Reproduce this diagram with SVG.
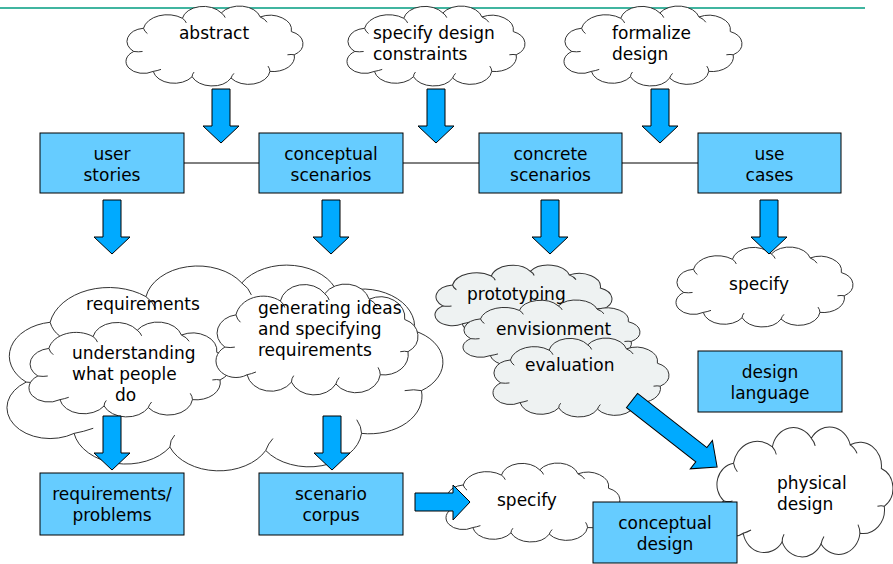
<svg xmlns="http://www.w3.org/2000/svg" xmlns:xlink="http://www.w3.org/1999/xlink" width="893" height="564" viewBox="0 0 893 564">
<style>
.box{fill:#66ccff;stroke:#000;stroke-width:1}
.arrow{fill:#00aaff;stroke:#000;stroke-width:1}
.conn{stroke:#000;stroke-width:1;fill:none}
.cl{stroke:#333;stroke-width:1}
.t{font-family:"DejaVu Sans",Verdana,sans-serif;font-size:17px;fill:#000}
.m{text-anchor:middle}
</style>
<defs>
<symbol id="cloud" viewBox="12 1.5 182 120.5" preserveAspectRatio="none" overflow="visible">
<path vector-effect="non-scaling-stroke" stroke="#333" stroke-width="1" d="M20,70 A20,20 0 0 1 30,35 A25,25 0 0 1 70,20 A22,22 0 0 1 110,12 A22,22 0 0 1 150,18 A22,22 0 0 1 182,40 A20,20 0 0 1 185,75 A22,22 0 0 1 160,100 A22,22 0 0 1 120,110 A22,22 0 0 1 80,108 A22,22 0 0 1 40,100 A18,18 0 0 1 20,70 Z"/>
<path vector-effect="non-scaling-stroke" fill="none" stroke="#333" stroke-width="1" d="M30,35 Q31,40 34,43 M70,20 Q73,23 74,27 M110,12 Q113,15 114,19 M150,18 Q155,21 157,26 M185,75 Q182,74 178,75 M160,100 Q160,96 158,92 M120,110 Q121,106 123,103 M80,108 Q80,104 82,101 M40,100 Q44,99 48,97 M20,70 Q25,71 29,70"/>
</symbol>
<path id="down" d="M-9,0 H9 V37 H18 L0,54 L-18,37 H-9 Z"/>
</defs>

<line x1="0" y1="8" x2="865" y2="8" stroke="#009c80" stroke-width="1.5"/>

<g id="connectors">
<line class="conn" x1="184" y1="163" x2="259" y2="163"/>
<line class="conn" x1="403" y1="163" x2="479" y2="163"/>
<line class="conn" x1="622" y1="163" x2="698" y2="163"/>
<use href="#down" class="arrow" x="221" y="89"/>
<use href="#down" class="arrow" x="436" y="89"/>
<use href="#down" class="arrow" x="660" y="89"/>
</g>

<g id="user-stories"><rect class="box" x="40" y="133" width="144" height="60"/><text class="t m" x="112" y="160">user</text><text class="t m" x="112" y="181">stories</text></g>
<g id="conceptual-scenarios"><rect class="box" x="259" y="133" width="144" height="60"/><text class="t m" x="331" y="160">conceptual</text><text class="t m" x="331" y="181">scenarios</text></g>
<g id="concrete-scenarios"><rect class="box" x="479" y="133" width="143" height="60"/><text class="t m" x="550.5" y="160">concrete</text><text class="t m" x="550.5" y="181">scenarios</text></g>
<g id="use-cases"><rect class="box" x="698" y="133" width="143" height="60"/><text class="t m" x="769.5" y="160">use</text><text class="t m" x="769.5" y="181">cases</text></g>

<g id="abstract"><use href="#cloud" fill="#fff" x="126" y="6" width="177" height="80"/><text class="t m" x="214" y="39">abstract</text></g>
<g id="specify-design-constraints"><use href="#cloud" fill="#fff" x="347" y="6" width="178" height="80"/><text class="t" x="373" y="39">specify design</text><text class="t" x="373" y="60">constraints</text></g>
<g id="formalize-design"><use href="#cloud" fill="#fff" x="564" y="6" width="178" height="80"/><text class="t" x="612" y="39">formalize</text><text class="t" x="612" y="60">design</text></g>

<g id="requirements"><use href="#cloud" fill="#fff" x="7" y="265" width="436" height="206"/><text class="t m" x="143" y="310">requirements</text></g>
<g id="understanding"><use href="#cloud" fill="#fff" x="29" y="322" width="201" height="95"/><text class="t" x="72" y="359">understanding</text><text class="t" x="72" y="380">what people</text><text class="t" x="115" y="401">do</text></g>
<g id="generating-ideas"><use href="#cloud" fill="#fff" x="216" y="284" width="202" height="111"/><text class="t" x="258" y="314">generating ideas</text><text class="t" x="258" y="335">and specifying</text><text class="t" x="258" y="356">requirements</text></g>

<g id="prototyping"><use href="#cloud" fill="#eef2f2" x="435" y="265" width="177" height="72"/><text class="t" x="467" y="300">prototyping</text></g>
<g id="envisionment"><use href="#cloud" fill="#eef2f2" x="463" y="300" width="177" height="68"/><text class="t" x="496" y="335">envisionment</text></g>
<g id="evaluation"><use href="#cloud" fill="#eef2f2" x="493" y="338" width="176" height="79"/><text class="t" x="525" y="371">evaluation</text></g>

<g id="specify-right"><use href="#cloud" fill="#fff" x="676" y="247" width="177" height="80"/><text class="t m" x="759" y="290">specify</text></g>

<g id="design-language"><rect class="box" x="698" y="351" width="144" height="61"/><text class="t m" x="770" y="378">design</text><text class="t m" x="770" y="399">language</text></g>

<g id="requirements-problems"><rect class="box" x="40" y="473" width="144" height="62"/><text class="t m" x="112" y="500">requirements/</text><text class="t m" x="112" y="521">problems</text></g>
<g id="scenario-corpus"><rect class="box" x="259" y="473" width="144" height="62"/><text class="t m" x="331" y="500">scenario</text><text class="t m" x="331" y="521">corpus</text></g>

<g id="specify-bottom"><use href="#cloud" fill="#fff" x="446" y="463" width="174" height="79"/><text class="t" x="497" y="506">specify</text></g>
<g id="physical-design"><use href="#cloud" fill="#fff" x="716" y="427" width="177" height="130"/><text class="t" x="777" y="489">physical</text><text class="t" x="777" y="510">design</text></g>

<g id="connectors-2">
<use href="#down" class="arrow" x="112" y="200"/>
<use href="#down" class="arrow" x="331" y="200"/>
<use href="#down" class="arrow" x="550" y="200"/>
<use href="#down" class="arrow" x="769" y="200"/>
<use href="#down" class="arrow" x="112" y="416"/>
<use href="#down" class="arrow" x="332" y="416"/>
<path class="arrow" d="M415,493 H453 V485 L470,502 L453,520 V511 H415 Z"/>
<path class="arrow" transform="translate(632,400.5) rotate(38)" d="M0,-9 H88 V-18 L108,0 L88,18 V9 H0 Z"/>
</g>

<g id="conceptual-design"><rect class="box" x="593" y="502" width="144" height="61"/><text class="t m" x="665" y="529">conceptual</text><text class="t m" x="665" y="550">design</text></g>
</svg>
